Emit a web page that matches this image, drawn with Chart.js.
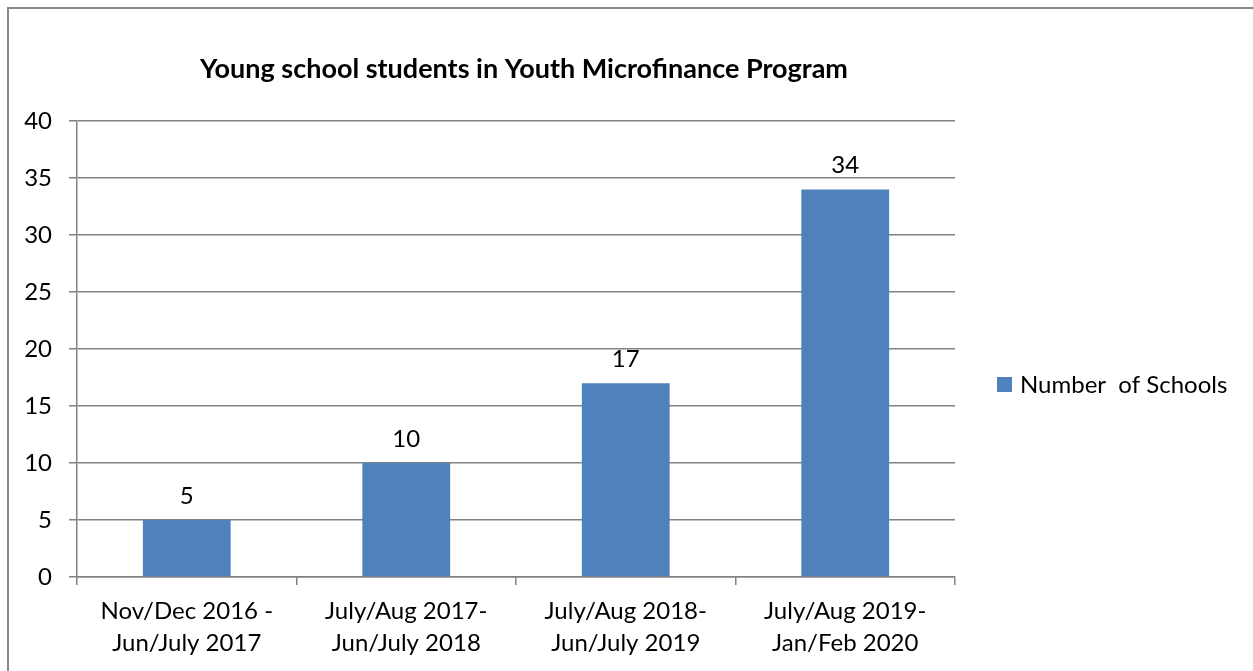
<!DOCTYPE html>
<html>
<head>
<meta charset="utf-8">
<script src="https://cdn.jsdelivr.net/npm/chart.js@4.4.1/dist/chart.umd.min.js"></script>
<style>
  html, body { margin: 0; padding: 0; background: #fff; overflow: hidden; }
  #frame { position: absolute; left: 7px; top: 7px; width: 1270px; height: 700px; border: 2px solid #878787; }
  #wrap { position: absolute; left: 0; top: 0; width: 1253px; height: 671px; }
</style>
</head>
<body>
<div id="frame"></div>
<div id="wrap"><canvas id="chart" width="1253" height="671"></canvas></div>
<script>
// chart data
var chartTitle = 'Young school students in Youth Microfinance Program';
var periods = [
  ['Nov/Dec 2016 -', 'Jun/July 2017'],
  ['July/Aug 2017-', 'Jun/July 2018'],
  ['July/Aug 2018-', 'Jun/July 2019'],
  ['July/Aug 2019-', 'Jan/Feb 2020']
];
var seriesName = 'Number  of Schools';
var schoolCounts = [5, 10, 17, 34];
var yMin = 0, yMax = 40, yStep = 5;

var FONT = 'Lato, "Open Sans", sans-serif';
var GRID = '#828282';
var BAR = '#4f81bd';

// title, value labels and legend drawn on the canvas
var extrasPlugin = {
  id: 'extras',
  afterDatasetsDraw: function(chart) {
    var ctx = chart.ctx;
    var area = chart.chartArea;
    ctx.save();
    ctx.fillStyle = '#000';

    // value labels above bars
    ctx.font = '24px ' + FONT;
    ctx.textAlign = 'center';
    ctx.textBaseline = 'middle';
    chart.getDatasetMeta(0).data.forEach(function(bar, i) {
      ctx.fillText(String(chart.data.datasets[0].data[i]), bar.x, bar.y - 24);
    });

    // title
    ctx.font = 'bold 27px ' + FONT;
    ctx.fillText(chartTitle, (area.left + area.right) / 2 + 8, 69);

    // legend
    var ds = chart.data.datasets[0];
    ctx.fillStyle = ds.backgroundColor;
    ctx.fillRect(997, 377, 15, 15);
    ctx.fillStyle = '#000';
    ctx.font = '24px ' + FONT;
    ctx.textAlign = 'left';
    ctx.fillText(ds.label, 1020, 385);
    ctx.restore();
  }
};

new Chart(document.getElementById('chart'), {
  type: 'bar',
  data: {
    labels: periods,
    datasets: [{
      label: seriesName,
      data: schoolCounts,
      backgroundColor: BAR,
      barPercentage: 0.4,
      categoryPercentage: 1.0
    }]
  },
  options: {
    responsive: false,
    animation: false,
    layout: { padding: { left: 0, top: 121, right: 298, bottom: 0 } },
    plugins: {
      legend: { display: false },
      title: { display: false },
      tooltip: { enabled: false }
    },
    scales: {
      x: {
        afterFit: function(scale) { scale.height = 94; },
        grid: { display: true, drawOnChartArea: false, drawTicks: true, tickLength: 8, color: GRID, lineWidth: 1.5 },
        border: { display: true, color: GRID, width: 1.5 },
        ticks: { color: '#000', padding: 11, maxRotation: 0, autoSkip: false, font: { family: FONT, size: 24, lineHeight: 1.3 } }
      },
      y: {
        min: yMin,
        max: yMax,
        afterFit: function(scale) { scale.width = 77; },
        grid: { color: GRID, lineWidth: 1.5, drawTicks: true, tickLength: 8 },
        border: { display: true, color: GRID, width: 1.5 },
        ticks: { stepSize: yStep, color: '#000', padding: 17, font: { family: FONT, size: 24 } }
      }
    }
  },
  plugins: [extrasPlugin]
});
</script>
</body>
</html>
